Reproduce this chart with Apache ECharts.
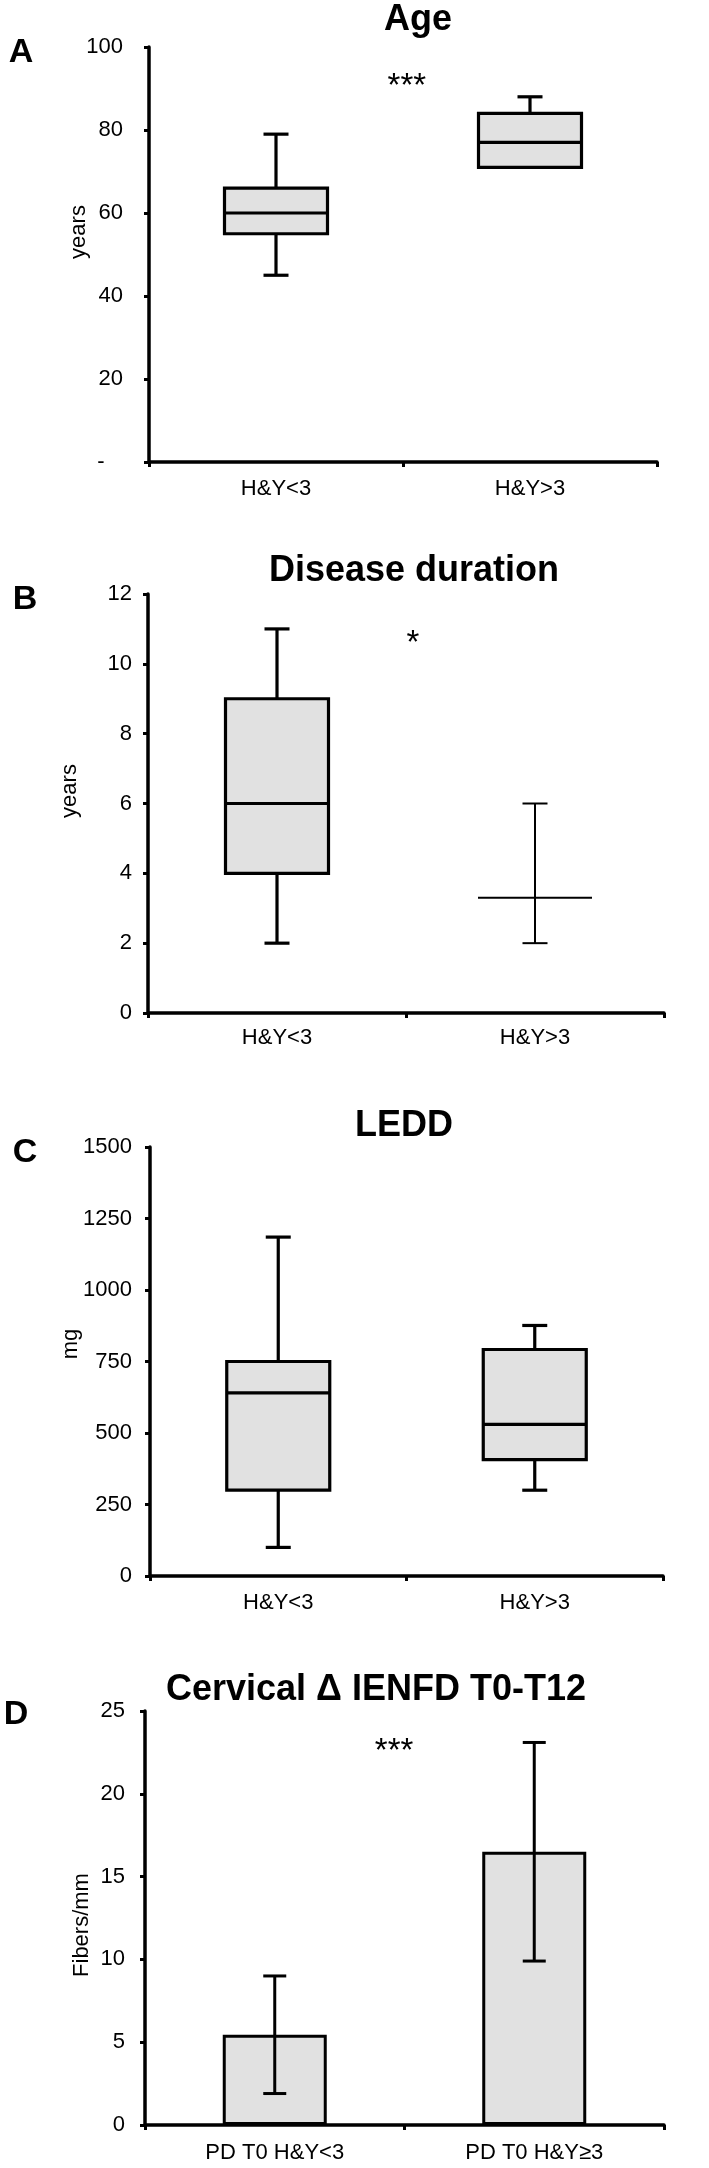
<!DOCTYPE html>
<html>
<head>
<meta charset="utf-8">
<script src="https://cdn.jsdelivr.net/npm/echarts@6/dist/echarts.min.js"></script>
<style>
html, body { margin: 0; padding: 0; background: #fff; }
#chart { width: 709px; height: 2168px; }
</style>
</head>
<body>
<div id="chart"></div>
<script>
// ---------------- data ----------------
const groupsHY = ['H&Y<3', 'H&Y>3'];
const groupsPD = ['PD T0 H&Y<3', 'PD T0 H&Y≥3'];

// box plots: [min, Q1, median, Q3, max]
const ageBoxes = [[45, 55, 60, 66, 79], [71, 71, 77, 84, 88]];
const durationBoxes = [[2, 4, 6, 9, 11], [2, 3.3, 3.3, 3.3, 6]];
const leddBoxes = [[100, 300, 640, 750, 1185], [300, 407, 530, 792, 876]];

// bar chart with error bars
const ienfdMeans = [5.45, 16.5];
const ienfdLow = [1.9, 9.9];
const ienfdHigh = [9.0, 23.1];

// value axes: [min, max, interval]
const ageAxis = [0, 100, 20];
const durationAxis = [0, 12, 2];
const leddAxis = [0, 1500, 250];
const ienfdAxis = [0, 25, 5];

// significance marks: text, x (0..2 across the plot), y (data units)
const sigText = ['***', '*', '', '***'];
const sigX = [1.015, 1.027, 1, 0.96];
const sigY = [90.5, 10.57, 0, 22.55];

// ---------------- styling ----------------
const FONT = '"Liberation Sans", Arial, Helvetica, sans-serif';
const FILL = '#e1e1e1';
const INK = '#000';

const panels = [
  { left: 149, top: 47, width: 508, height: 415, title: 'Age', tx: 418, ty: 20, letter: 'A', lx: 21, ly: 53,
    yname: 'years', nx: 79, ny: 232, ylm: 26, xlm: 16, cats: groupsHY, axis: ageAxis },
  { left: 148, top: 594, width: 516, height: 419, title: 'Disease duration', tx: 414, ty: 571, letter: 'B', lx: 25, ly: 600,
    yname: 'years', nx: 70, ny: 791, ylm: 16, xlm: 14, cats: groupsHY, axis: durationAxis },
  { left: 150, top: 1147, width: 513, height: 429, title: 'LEDD', tx: 404, ty: 1126, letter: 'C', lx: 25, ly: 1153,
    yname: 'mg', nx: 71, ny: 1344, ylm: 18, xlm: 16, cats: groupsHY, axis: leddAxis },
  { left: 145, top: 1711, width: 519, height: 414, title: 'Cervical \u0394 IENFD T0-T12', tx: 376, ty: 1690, letter: 'D', lx: 16, ly: 1715,
    yname: 'Fibers/mm', nx: 82, ny: 1925, ylm: 20, xlm: 17, cats: groupsPD, axis: ienfdAxis }
];

const grid = [], xAxis = [], yAxis = [], series = [], graphic = [];

panels.forEach((p, k) => {
  grid.push({ left: p.left, top: p.top, width: p.width, height: p.height, containLabel: false, outerBoundsMode: 'none' });
  xAxis.push({
    type: 'category', gridIndex: k, data: p.cats, boundaryGap: true,
    axisLine: { lineStyle: { color: INK, width: 3.5 } },
    axisTick: { show: true, length: 5, lineStyle: { color: INK, width: 3 } },
    axisLabel: { color: INK, fontSize: 22, fontFamily: FONT, margin: p.xlm },
    splitLine: { show: false }
  });
  xAxis.push({ type: 'value', gridIndex: k, min: 0, max: 2, show: false });
  yAxis.push({
    type: 'value', gridIndex: k, min: p.axis[0], max: p.axis[1], interval: p.axis[2],
    axisLine: { show: true, lineStyle: { color: INK, width: 3.5 } },
    axisTick: { show: true, length: 5, lineStyle: { color: INK, width: 3 } },
    axisLabel: {
      color: INK, fontSize: 22, fontFamily: FONT, margin: p.ylm,
      formatter: (k === 0) ? (v => (v === 0 ? '-   ' : String(v))) : (v => String(v))
    },
    splitLine: { show: false }
  });
  graphic.push({ type: 'text', x: p.tx, y: p.ty, silent: true,
    style: { text: p.title, fill: INK, font: 'bold 36px ' + FONT, textAlign: 'center', textVerticalAlign: 'middle' } });
  graphic.push({ type: 'text', x: p.lx, y: p.ly, silent: true,
    style: { text: p.letter, fill: INK, font: 'bold 34px ' + FONT, textAlign: 'center', textVerticalAlign: 'middle' } });
  graphic.push({ type: 'text', x: p.nx, y: p.ny, rotation: Math.PI / 2, silent: true,
    style: { text: p.yname, fill: INK, font: '22px ' + FONT, textAlign: 'center', textVerticalAlign: 'middle' } });
});

function renderBox(params, api) {
  const i = api.value(0);
  const mn = api.value(1), q1 = api.value(2), md = api.value(3), q3 = api.value(4), mx = api.value(5);
  const cx = api.coord([i, md])[0];
  const y = v => api.coord([i, v])[1];
  const collapsed = q1 === q3;
  const half = (collapsed ? 114 : 103) / 2;
  const capHalf = 12.5;
  const lw = collapsed ? 2 : 3.2;
  const st = { stroke: INK, lineWidth: lw, fill: null };
  const ch = [];
  ch.push({ type: 'line', shape: { x1: cx, y1: y(q3), x2: cx, y2: y(mx) }, style: st });
  ch.push({ type: 'line', shape: { x1: cx, y1: y(q1), x2: cx, y2: y(mn) }, style: st });
  if (mx > q3) ch.push({ type: 'line', shape: { x1: cx - capHalf, y1: y(mx), x2: cx + capHalf, y2: y(mx) }, style: st });
  if (mn < q1) ch.push({ type: 'line', shape: { x1: cx - capHalf, y1: y(mn), x2: cx + capHalf, y2: y(mn) }, style: st });
  if (!collapsed) {
    ch.push({ type: 'rect', shape: { x: cx - half, y: y(q3), width: 2 * half, height: y(q1) - y(q3) },
      style: { fill: FILL, stroke: INK, lineWidth: 3.2 } });
  }
  ch.push({ type: 'line', shape: { x1: cx - half, y1: y(md), x2: cx + half, y2: y(md) }, style: st });
  return { type: 'group', children: ch };
}

function renderErr(params, api) {
  const i = api.value(0);
  const lo = api.coord([i, api.value(1)]);
  const hi = api.coord([i, api.value(2)]);
  const cx = lo[0];
  const capHalf = 11.5;
  const st = { stroke: INK, lineWidth: 3, fill: null };
  return { type: 'group', children: [
    { type: 'line', shape: { x1: cx, y1: lo[1], x2: cx, y2: hi[1] }, style: st },
    { type: 'line', shape: { x1: cx - capHalf, y1: lo[1], x2: cx + capHalf, y2: lo[1] }, style: st },
    { type: 'line', shape: { x1: cx - capHalf, y1: hi[1], x2: cx + capHalf, y2: hi[1] }, style: st }
  ] };
}

function renderSig(params, api) {
  const k = api.value(2);
  const pt = api.coord([api.value(0), api.value(1)]);
  return { type: 'text', x: pt[0], y: pt[1],
    style: { text: sigText[k], fill: INK, font: '33px ' + FONT, textAlign: 'center', textVerticalAlign: 'middle' } };
}

[ageBoxes, durationBoxes, leddBoxes].forEach((boxes, k) => {
  series.push({
    type: 'custom', xAxisIndex: 2 * k, yAxisIndex: k, renderItem: renderBox,
    encode: { x: 0, y: [1, 2, 3, 4, 5] },
    data: boxes.map((b, i) => [i].concat(b)), silent: true, z: 3
  });
});

series.push({
  type: 'bar', xAxisIndex: 6, yAxisIndex: 3, data: ienfdMeans, barWidth: 104, silent: true,
  itemStyle: { color: FILL, borderColor: INK, borderWidth: 3 }, z: 2
});
series.push({
  type: 'custom', xAxisIndex: 6, yAxisIndex: 3, renderItem: renderErr, silent: true, z: 4,
  encode: { x: 0, y: [1, 2] },
  data: ienfdMeans.map((m, i) => [i, ienfdLow[i], ienfdHigh[i]])
});

sigText.forEach((t, k) => {
  if (!t) return;
  series.push({
    type: 'custom', xAxisIndex: 2 * k + 1, yAxisIndex: k, renderItem: renderSig, silent: true, z: 5,
    encode: { x: 0, y: 1 },
    data: [[sigX[k], sigY[k], k]]
  });
});

const chart = echarts.init(document.getElementById('chart'), null, { renderer: 'canvas' });
chart.setOption({
  animation: false,
  backgroundColor: '#fff',
  grid, xAxis, yAxis, series, graphic
});
</script>
</body>
</html>
